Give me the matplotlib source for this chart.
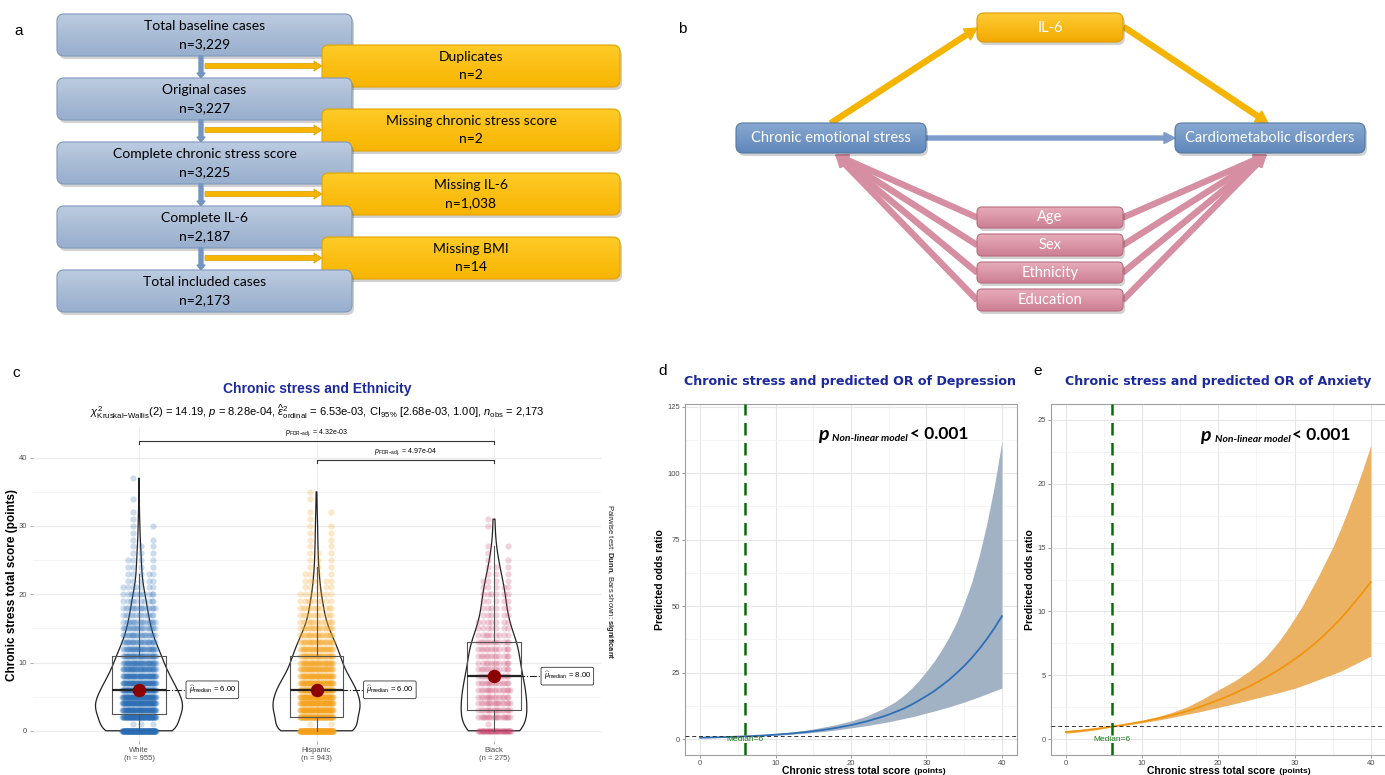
import numpy as np
import matplotlib.pyplot as plt
from matplotlib.patches import FancyBboxPatch, FancyArrow
from matplotlib.colors import to_rgb
from matplotlib.ticker import MultipleLocator

plt.rcParams['font.family'] = ['Liberation Sans', 'DejaVu Sans']
plt.rcParams['mathtext.fontset'] = 'custom'
plt.rcParams['mathtext.rm'] = 'Liberation Sans'
plt.rcParams['mathtext.it'] = 'Liberation Sans:italic'
plt.rcParams['mathtext.bf'] = 'Liberation Sans:bold'

# --- panel a: flow of cases
kept_steps = ['Total baseline cases', 'Original cases', 'Complete chronic stress score',
              'Complete IL-6', 'Total included cases']
kept_n = ['3,229', '3,227', '3,225', '2,187', '2,173']
excluded_steps = ['Duplicates', 'Missing chronic stress score', 'Missing IL-6', 'Missing BMI']
excluded_n = ['2', '2', '1,038', '14']

# --- panel b: model diagram
mediator = 'IL-6'
exposure = 'Chronic emotional stress'
outcome = 'Cardiometabolic disorders'
confounders = ['Age', 'Sex', 'Ethnicity', 'Education']

# --- panel c: number of participants at each chronic stress score (0, 1, 2, ...)
groups = ['White', 'Hispanic', 'Black']
white_counts = [150, 3, 86, 72, 76, 68, 63, 56, 52, 43, 40, 38, 32, 26, 22, 20, 18, 13, 16, 10,
                11, 7, 5, 5, 4, 4, 3, 3, 2, 1, 2, 1, 1, 0, 1, 0, 0, 1]
hisp_counts = [160, 2, 80, 72, 70, 66, 65, 58, 50, 43, 40, 38, 34, 29, 24, 19, 15, 12, 12, 9,
               8, 5, 6, 4, 3, 3, 3, 2, 2, 2, 2, 1, 2, 0, 1, 1]
black_counts = [40, 1, 18, 16, 16, 14, 15, 14, 14, 12, 11, 12, 12, 12, 9, 7, 7, 6, 6, 5,
                6, 5, 4, 3, 3, 2, 1, 2, 0, 0, 1, 1]
pairs = [('White', 'Black'), ('Hispanic', 'Black')]
pair_p = ['4.32e-03', '4.97e-04']
subtitle = (r'$\chi^2_{\mathrm{Kruskal{-}Wallis}}(2)$ = 14.19, $p$ = 8.28e-04, '
            r'$\widehat{\epsilon}^2_{\mathrm{ordinal}}$ = 6.53e-03, CI$_{95\%}$ [2.68e-03, 1.00], '
            r'$n_{\mathrm{obs}}$ = 2,173')

# --- panels d, e: predicted odds ratio vs chronic stress score
score = [0, 2, 4, 6, 8, 10, 12, 14, 16, 18, 20, 22, 24, 25, 26, 27, 28, 29, 30, 31, 32,
         33, 34, 35, 36, 37, 38, 39, 40]
dep_or = [0.52, 0.65, 0.80, 1.00, 1.28, 1.65, 2.08, 2.62, 3.30, 4.18, 5.25, 6.60, 8.25, 9.2,
          10.3, 11.5, 12.9, 14.5, 16.2, 18.0, 20.1, 22.3, 24.8, 27.5, 30.5, 33.9, 37.6, 41.7,
          46.2]
dep_lo = [0.42, 0.56, 0.74, 1.00, 1.18, 1.42, 1.75, 2.20, 2.75, 3.40, 4.20, 5.00, 6.00, 6.5,
          7.1, 7.7, 8.3, 9.0, 9.8, 10.5, 11.3, 12.1, 13.0, 13.9, 14.9, 15.9, 17.0, 18.1, 19.2]
dep_hi = [0.62, 0.74, 0.87, 1.00, 1.45, 2.00, 2.60, 3.35, 4.30, 5.40, 6.80, 8.60, 11.1, 12.6,
          14.3, 16.5, 19.0, 22.0, 25.5, 29.2, 33.5, 38.4, 44.0, 51.0, 59.0, 69.1, 81.0, 95.2,
          112.0]
anx_or = [0.55, 0.66, 0.80, 0.97, 1.15, 1.36, 1.60, 1.88, 2.20, 2.60, 3.05, 3.55, 4.10, 4.41,
          4.75, 5.09, 5.45, 5.84, 6.25, 6.69, 7.15, 7.66, 8.20, 8.78, 9.40, 10.08, 10.8, 11.53,
          12.3]
anx_lo = [0.45, 0.57, 0.73, 0.94, 1.10, 1.28, 1.47, 1.70, 1.95, 2.20, 2.48, 2.75, 3.05, 3.20,
          3.35, 3.50, 3.65, 3.81, 3.97, 4.18, 4.40, 4.62, 4.85, 5.07, 5.30, 5.60, 5.90, 6.20,
          6.50]
anx_hi = [0.65, 0.75, 0.87, 1.00, 1.20, 1.45, 1.75, 2.10, 2.55, 3.15, 3.85, 4.50, 5.30, 5.78,
          6.30, 6.96, 7.70, 8.53, 9.45, 10.4, 11.5, 12.6, 13.8, 15.0, 16.4, 17.9, 19.5, 21.2,
          23.0]
median_score = 6

W, H = 1385, 775
fig = plt.figure(figsize=(W / 100, H / 100), dpi=100)

# canvas in pixel units for the diagrams and loose texts
ax0 = fig.add_axes([0, 0, 1, 1])
ax0.axis('off')


def px_axes(l, t, r, b):
    return fig.add_axes([l / W, 1 - b / H, (r - l) / W, (b - t) / H])


def gbox(x0, y0, x1, y1, top, bot, edge, z, r=7):
    ax0.add_patch(FancyBboxPatch((x0 + 2, y0 + 3), x1 - x0, y1 - y0,
                                 boxstyle=f'round,pad=0,rounding_size={r}',
                                 fc='black', ec='none', alpha=0.18, zorder=z))
    box = FancyBboxPatch((x0, y0), x1 - x0, y1 - y0,
                         boxstyle=f'round,pad=0,rounding_size={r}',
                         fc='none', ec=edge, lw=0.8, zorder=z + 0.2)
    ax0.add_patch(box)
    t = np.linspace(0, 1, 50)[:, None, None]
    img = (1 - t) * np.array(to_rgb(top)) + t * np.array(to_rgb(bot))
    im = ax0.imshow(img, extent=(x0, x1, y1, y0), aspect='auto', zorder=z + 0.1)
    im.set_clip_path(box)


box_font = dict(family=['Lato', 'DejaVu Sans'], fontsize=10, ha='center', va='center')

# ---------------- panel a
z = 1
for i, (lab, n) in enumerate(zip(kept_steps, kept_n)):
    y0 = 14 + 64 * i
    gbox(57, y0, 352, y0 + 42, '#bccbe0', '#97aecd', '#7f98bd', z)
    ax0.text(204.5, y0 + 12, lab, zorder=z + 0.3, **box_font)
    ax0.text(204.5, y0 + 30, f'n={n}', zorder=z + 0.3, **box_font)
    z += 1
    if i < len(excluded_steps):
        ax0.add_patch(FancyArrow(201, y0 + 42, 0, 22, width=4, head_width=8, head_length=5,
                                 length_includes_head=True, color='#7594c4', zorder=z))
        ax0.add_patch(FancyArrow(205, y0 + 52, 117, 0, width=5, head_width=10, head_length=8,
                                 length_includes_head=True, fc='#f5b400', ec='#d99b00',
                                 lw=0.5, zorder=z))
        gbox(322, y0 + 31, 620, y0 + 73, '#ffca28', '#f7b500', '#e0a300', z + 0.5)
        ax0.text(471, y0 + 43, excluded_steps[i], zorder=z + 0.8, **box_font)
        ax0.text(471, y0 + 61, f'n={excluded_n[i]}', zorder=z + 0.8, **box_font)
        z += 1

# ---------------- panel b
white_font = dict(box_font, color='white', fontsize=10.5)
arr = dict(length_includes_head=True, zorder=20)
ax0.add_patch(FancyArrow(831, 123, 146, -95, width=5, head_width=13, head_length=12,
                         color='#f4b400', **arr))
ax0.add_patch(FancyArrow(1124, 27, 144, 96, width=5, head_width=13, head_length=12,
                         color='#f4b400', **arr))
ax0.add_patch(FancyArrow(926, 138, 249, 0, width=4, head_width=11, head_length=11,
                         color='#7d9ccb', **arr))
conf_y = [(207, 228), (234, 256), (262, 283), (289, 311)]
for (c0, c1) in conf_y:
    yc = (c0 + c1) / 2
    ax0.add_patch(FancyArrow(977, yc, 836 - 977, 155 - yc, width=5, head_width=12,
                             head_length=12, color='#d68ea2', **arr))
    ax0.add_patch(FancyArrow(1123, yc, 1266 - 1123, 155 - yc, width=5, head_width=12,
                             head_length=12, color='#d68ea2', **arr))
gbox(977, 13, 1123, 42, '#ffcb35', '#f2a900', '#e09a00', 30)
ax0.text(1050, 28, mediator, zorder=31, **white_font)
gbox(736, 123, 926, 153, '#88a8d2', '#5f87ba', '#54779f', 30)
ax0.text(831, 138, exposure, zorder=31, **white_font)
gbox(1175, 123, 1365, 153, '#88a8d2', '#5f87ba', '#54779f', 30)
ax0.text(1270, 138, outcome, zorder=31, **white_font)
for lab, (c0, c1) in zip(confounders, conf_y):
    gbox(977, c0, 1123, c1, '#e6abb9', '#cd7f93', '#b86e81', 30, r=5)
    ax0.text(1050, (c0 + c1) / 2, lab, zorder=31, **white_font)

# panel letters
for letter, (lx, ly) in zip('abcde', [(19, 31), (682, 29), (16, 373), (663, 371), (1038, 371)]):
    ax0.text(lx, ly, letter, fontsize=11, ha='center', va='center')

# ---------------- panel c
navy = '#1c2a9c'
axc = px_axes(32.5, 427, 600.5, 741)
data = [np.repeat(np.arange(len(c)), c) for c in (white_counts, hisp_counts, black_counts)]
point_cols = ['#2a6db5', '#f5a21a', '#c8446e']
violin_w = [0.49, 0.49, 0.37]
for i, d in enumerate(data):
    pos = i + 1
    sd = d.std()
    iqr = np.subtract(*np.percentile(d, [75, 25]))
    bw = 0.9 * min(sd, iqr / 1.34) * len(d) ** -0.2 / sd
    vp = axc.violinplot(d, positions=[pos], widths=violin_w[i], showextrema=False,
                        bw_method=bw)
    for body in vp['bodies']:
        body.set_facecolor('none')
        body.set_edgecolor('#222222')
        body.set_linewidth(0.9)
        body.set_alpha(1)
        body.set_zorder(2)
    vals, cnt = np.unique(d, return_counts=True)
    xs, ys = [], []
    for v, k in zip(vals, cnt):
        off = ((np.arange(k) * 0.618034 + 0.31) % 1 - 0.5) * 0.19
        xs.extend(pos + off)
        ys.extend([v] * k)
    axc.scatter(xs, ys, s=20, color=point_cols[i], alpha=0.24, linewidths=0, zorder=3)
    axc.boxplot(d, positions=[pos], widths=0.3, showfliers=False, showcaps=False,
                boxprops=dict(color='#555555', lw=0.8),
                whiskerprops=dict(color='#555555', lw=0.8),
                medianprops=dict(color='#222222', lw=1.6), zorder=4)
    med = np.median(d)
    axc.scatter([pos], [med], s=75, color='#8b0000', zorder=6)
    axc.plot([pos, pos + 0.265], [med, med], ls='-.', color='#222222', lw=0.8, zorder=5)
    axc.text(pos + 0.28, med, rf'$\widehat{{\mu}}_{{\mathrm{{median}}}}$ = {med:.2f}',
             fontsize=5.5, ha='left', va='center', zorder=7,
             bbox=dict(boxstyle='round,pad=0.35,rounding_size=0.2', fc='white',
                       ec='#333333', lw=0.6))

bar_y = [42.4, 39.6]
for (a, b), p, yb in zip(pairs, pair_p, bar_y):
    xa, xb = groups.index(a) + 1, groups.index(b) + 1
    axc.plot([xa, xa, xb, xb], [yb - 0.35, yb, yb, yb - 0.35], color='#333333', lw=0.8)
    axc.text((xa + xb) / 2, yb + 1.25, rf'$p_{{\mathrm{{FDR{{-}}adj.}}}}$ = {p}',
             fontsize=5, ha='center', va='center')

axc.set_xlim(0.4, 3.6)
axc.set_ylim(-1.5, 44.5)
axc.set_xticks([1, 2, 3], [f'{g}\n(n = {len(d)})' for g, d in zip(groups, data)])
axc.set_yticks(np.arange(0, 41, 10))
axc.yaxis.set_minor_locator(MultipleLocator(5))
axc.grid(axis='y', which='major', color='#ebebeb', lw=0.9)
axc.grid(axis='y', which='minor', color='#f3f3f3', lw=0.6)
axc.grid(axis='x', which='major', color='#ebebeb', lw=0.6)
axc.set_axisbelow(True)
axc.tick_params(labelsize=5.5, labelcolor='#4d4d4d', length=2, width=0.5, color='#888888',
                pad=2)
axc.tick_params(which='minor', length=0)
for s in axc.spines.values():
    s.set_visible(False)

ax0.text(317, 389, 'Chronic stress and Ethnicity', fontsize=10, fontweight='bold',
         color=navy, ha='center', va='center')
ax0.text(317, 412, subtitle, fontsize=8, ha='center', va='center')
ax0.text(12, 585, 'Chronic stress total score (points)', fontsize=8.5, fontweight='bold',
         rotation=90, ha='center', va='center')
ax0.text(609, 582, r'Pairwise test: $\mathbf{Dunn}$, Bars shown: $\mathbf{significant}$',
         fontsize=5.5, rotation=270, ha='center', va='center', color='#222222')


# ---------------- panels d, e
def or_panel(ax, fit, lo, hi, line_col, band_col, ylim, ystep, p_xy):
    ax.fill_between(score, lo, hi, color=band_col, lw=0, zorder=2)
    ax.plot(score, fit, color=line_col, lw=1.3, zorder=3)
    ax.axhline(1, color='#333333', lw=0.7, ls=(0, (4, 3)), zorder=4)
    ax.axvline(median_score, color='#0b6b0b', lw=1.8, ls=(0, (5, 3)), zorder=4)
    ax.text(median_score, 0, f'Median={median_score}', color='#1a7a1a', fontsize=6,
            ha='center', va='center', zorder=5)
    ax.set_xlim(-2, 42)
    ax.set_ylim(*ylim)
    ax.xaxis.set_major_locator(MultipleLocator(10))
    ax.xaxis.set_minor_locator(MultipleLocator(5))
    ax.yaxis.set_major_locator(MultipleLocator(ystep))
    ax.yaxis.set_minor_locator(MultipleLocator(ystep / 2))
    ax.grid(which='major', color='#e6e6e6', lw=0.8)
    ax.grid(which='minor', color='#f2f2f2', lw=0.5)
    ax.set_axisbelow(True)
    ax.tick_params(labelsize=5.5, labelcolor='#4d4d4d', length=2, width=0.5,
                   color='#777777', pad=1.5)
    ax.tick_params(which='minor', length=0)
    for s in ax.spines.values():
        s.set_color('#a0a0a0')
        s.set_linewidth(0.8)
    t1 = ax.text(p_xy[0], p_xy[1], 'p', fontsize=14, fontweight='bold', style='italic',
                 family=['Lato', 'DejaVu Sans'], va='baseline', zorder=6)
    t2 = ax.annotate('Non-linear model', xy=(1, 0), xycoords=t1, xytext=(3, 0),
                     textcoords='offset points', fontsize=7.5, fontweight='bold',
                     style='italic', family=['Lato', 'DejaVu Sans'], va='bottom', zorder=6)
    ax.annotate('< 0.001', xy=(1, 1), xycoords=t2, xytext=(1.5, 0),
                textcoords='offset points', fontsize=12.5, fontweight='bold',
                family=['Lato', 'DejaVu Sans'], va='center', zorder=6)


axd = px_axes(685, 404, 1017, 755)
or_panel(axd, dep_or, dep_lo, dep_hi, '#2f6fb5', '#a2b2c5', (-6.0, 126.0), 25, (15.6, 112.6))
axe = px_axes(1050.5, 404, 1386, 755)
or_panel(axe, anx_or, anx_lo, anx_hi, '#f0950c', '#ebb264', (-1.25, 26.25), 5, (17.6, 23.35))

for cx, title in [(850, 'Depression'), (1218, 'Anxiety')]:
    ax0.text(cx, 382, f'Chronic stress and predicted OR of {title}', fontsize=9.1,
             fontweight='bold', color=navy, family='DejaVu Sans', ha='center', va='center')
for ylx in (660, 1030):
    ax0.text(ylx, 580, 'Predicted odds ratio', fontsize=7.5, fontweight='bold',
             rotation=90, ha='center', va='center')
for x0 in (782, 1147):
    t = ax0.text(x0, 771, 'Chronic stress total score', fontsize=7.5, fontweight='bold',
                 ha='left', va='center')
    ax0.annotate(' (points)', xy=(1, 0), xycoords=t, xytext=(1, 0.5),
                 textcoords='offset points', fontsize=6, fontweight='bold', va='bottom')

ax0.set_xlim(0, W)
ax0.set_ylim(H, 0)
fig.savefig('out.png', dpi=100)
